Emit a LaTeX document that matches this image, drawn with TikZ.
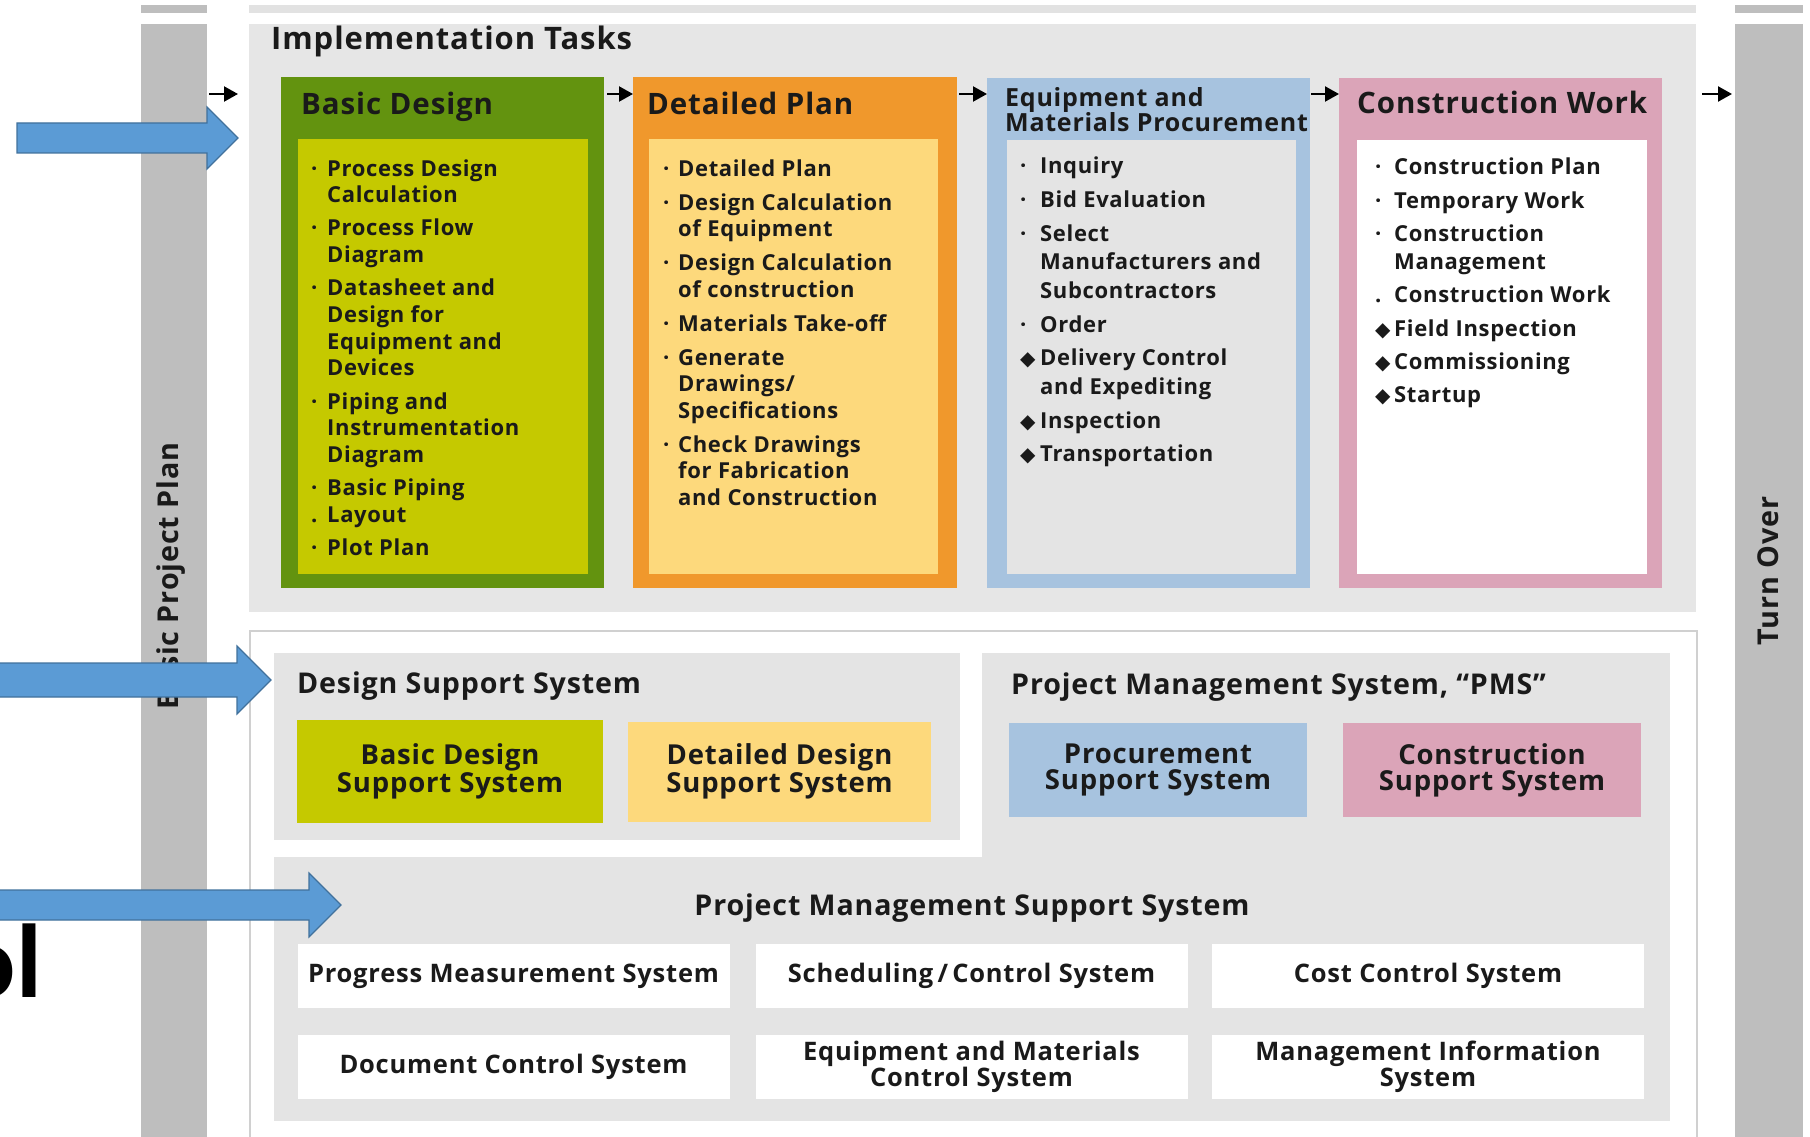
\documentclass[tikz,border=0pt]{standalone}
\usepackage{fontspec}
\setmainfont{Open Sans}[LetterSpace=3]
\newfontfamily\symb{DejaVu Sans}
\newfontfamily\calib{Carlito}
\usetikzlibrary{arrows.meta,calc,positioning}

\definecolor{barGray}{HTML}{BEBEBE}
\definecolor{stripGray}{HTML}{E2E2E2}
\definecolor{panelGray}{HTML}{E6E6E6}
\definecolor{boxGray}{HTML}{E4E4E4}
\definecolor{lineGray}{HTML}{D0D0D0}
\definecolor{bdOuter}{HTML}{63930F}
\definecolor{bdInner}{HTML}{C5C900}
\definecolor{dpOuter}{HTML}{F0982C}
\definecolor{dpInner}{HTML}{FDD97C}
\definecolor{emOuter}{HTML}{A7C3DF}
\definecolor{emInner}{HTML}{E4E4E4}
\definecolor{cwOuter}{HTML}{DBA4B8}
\definecolor{arrowBlue}{HTML}{5B9BD5}
\definecolor{arrowEdge}{HTML}{41719C}
\definecolor{ink}{HTML}{1A1A1A}

\newlength{\bulw}
\newcommand{\dt}{\makebox[\bulw][l]{\textperiodcentered}}
\newcommand{\pd}{\makebox[\bulw][l]{.}}
\newcommand{\dm}{\makebox[\bulw][l]{\symb\fontsize{20}{20}\selectfont ◆}}

\tikzset{
  block/.style={inner sep=0pt, anchor=north west},
  title/.style={font=\bfseries\fontsize{29.5}{30}\selectfont, anchor=base west, inner sep=0pt, text=ink},
  itemlist/.style={font=\bfseries\fontsize{22}{#1}\selectfont, anchor=base west, inner sep=0pt, text=ink},
  sysbox/.style={inner sep=0pt, align=center, text=ink, font=\bfseries\fontsize{27.5}{26}\selectfont},
  whitebox/.style={fill=white, inner sep=0pt, minimum width=432pt, minimum height=64pt, align=center, text=ink, font=\bfseries\fontsize{25.5}{26}\selectfont},
  systitle/.style={font=\bfseries\fontsize{28.6}{29}\selectfont, inner sep=0pt, text=ink},
  sidetext/.style={rotate=90, font=\bfseries\fontsize{28.7}{29}\selectfont, inner sep=0pt, text=ink},
  flow/.style={line width=2.2pt, -{Triangle[length=14pt,width=15pt]}},
  bigarrow/.style={fill=arrowBlue, draw=arrowEdge, line width=1.2pt, line join=miter}
}

\begin{document}
\begin{tikzpicture}[x=1pt,y=-1pt]
    \useasboundingbox (0,0) rectangle (1810,1137);

    % Side bars and top strips
    \fill[barGray] (141,5) rectangle (207,13);
    \fill[stripGray] (249,5) rectangle (1696,13);
    \fill[barGray] (1735,5) rectangle (1803,13);
    \node[block, fill=barGray, minimum width=66pt, minimum height=1114pt] (bpbar) at (141,24) {};
    \node[block, fill=barGray, minimum width=68pt, minimum height=1114pt] (tobar) at (1735,24) {};
    \node[sidetext] (bptext) at (171,576) {Basic Project Plan};
    \node[sidetext] (totext) at (1768,571) {Turn Over};

    % Implementation tasks
    \node[block, fill=panelGray, minimum width=1447pt, minimum height=588pt] (impl) at (249,24) {};
    \node[font=\bfseries\fontsize{31}{31}\selectfont, anchor=base west, inner sep=0pt, text=ink] (impltitle) at (271,50) {Implementation Tasks};

    \node[block, fill=bdOuter, minimum width=323pt, minimum height=511pt] (bd) at (281,77) {};
    \node[block, fill=bdInner, minimum width=290pt, minimum height=435pt] (bdin) at (298,139) {};
    \node[block, fill=dpOuter, minimum width=324pt, minimum height=511pt] (dp) at (633,77) {};
    \node[block, fill=dpInner, minimum width=289pt, minimum height=435pt] (dpin) at (649,139) {};
    \node[block, fill=emOuter, minimum width=323pt, minimum height=510pt] (em) at (987,78) {};
    \node[block, fill=emInner, minimum width=289pt, minimum height=434pt] (emin) at (1007,140) {};
    \node[block, fill=cwOuter, minimum width=323pt, minimum height=510pt] (cw) at (1339,78) {};
    \node[block, fill=white, minimum width=290pt, minimum height=434pt] (cwin) at (1357,140) {};

    \node[title] (bdtitle) at (301,115) {Basic Design};
    \node[title] (dptitle) at (647,115) {Detailed Plan};
    \node[title, font=\bfseries\fontsize{25}{25}\selectfont] (emtitlea) at (1005,107) {Equipment and};
    \node[title, font=\bfseries\fontsize{25}{25}\selectfont] (emtitleb) at (1005,132) {Materials Procurement};
    \node[title] (cwtitle) at (1357,114) {Construction Work};

    % Task lists
    \node[itemlist=26.7] (bdlist) at (311,176) {\setlength{\bulw}{16pt}%
      \begin{tabular}[t]{@{}l@{}l@{}}
        \dt & Process Design\\
            & Calculation\\[6.5pt]
        \dt & Process Flow\\
            & Diagram\\[6.5pt]
        \dt & Datasheet and\\
            & Design for\\
            & Equipment and\\
            & Devices\\[6.5pt]
        \dt & Piping and\\
            & Instrumentation\\
            & Diagram\\[6.5pt]
        \dt & Basic Piping\\
        \pd & Layout\\[6.5pt]
        \dt & Plot Plan
      \end{tabular}};
    \node[itemlist=26.5] (dplist) at (663,176) {\setlength{\bulw}{15pt}%
      \begin{tabular}[t]{@{}l@{}l@{}}
        \dt & Detailed Plan\\[7.5pt]
        \dt & Design Calculation\\
            & of Equipment\\[7.5pt]
        \dt & Design Calculation\\
            & of construction\\[7.5pt]
        \dt & Materials Take-off\\[7.5pt]
        \dt & Generate\\
            & Drawings/\\
            & Specifications\\[7.5pt]
        \dt & Check Drawings\\
            & for Fabrication\\
            & and Construction
      \end{tabular}};
    \node[itemlist=29] (emlist) at (1020,174) {\setlength{\bulw}{20pt}%
      \begin{tabular}[t]{@{}l@{}l@{}}
        \dt & Inquiry\\[4.5pt]
        \dt & Bid Evaluation\\[4.5pt]
        \dt & Select\\
            & Manufacturers and\\
            & Subcontractors\\[4.5pt]
        \dt & Order\\[4.5pt]
        \dm & Delivery Control\\
            & and Expediting\\[4.5pt]
        \dm & Inspection\\[4.5pt]
        \dm & Transportation
      \end{tabular}};
    \node[itemlist=28] (cwlist) at (1375,175) {\setlength{\bulw}{19pt}%
      \begin{tabular}[t]{@{}l@{}l@{}}
        \dt & Construction Plan\\[5.3pt]
        \dt & Temporary Work\\[5.3pt]
        \dt & Construction\\
            & Management\\[5.3pt]
        \pd & Construction Work\\[5.3pt]
        \dm & Field Inspection\\[5.3pt]
        \dm & Commissioning\\[5.3pt]
        \dm & Startup
      \end{tabular}};

    % Flow arrows
    \draw[flow] ($(bpbar.north east)+(2,70)$) -- ($(impl.north west)+(-11,70)$);
    \draw[flow] ($(bd.north east)+(3,17)$) -- (dp.north west |- 0,94);
    \draw[flow] ($(dp.north east)+(2,17)$) -- (em.north west |- 0,94);
    \draw[flow] ($(em.north east)+(1,16)$) -- (cw.north west |- 0,94);
    \draw[flow] ($(impl.north east)+(6,70)$) -- ($(tobar.north west)+(-3,70)$);

    % Support systems
    \node[block, fill=white, draw=lineGray, line width=2pt, minimum width=1447pt, minimum height=520pt] (sys) at (249,630) {};
    \node[block, fill=boxGray, minimum width=686pt, minimum height=187pt] (dss) at (274,653) {};
    \node[block, fill=boxGray, minimum width=688pt, minimum height=205pt] (pms) at (982,653) {};
    \node[block, fill=boxGray, minimum width=1396pt, minimum height=264pt] (pmss) at (274,857) {};

    \node[systitle, anchor=base west] (dsstitle) at (297,693) {Design Support System};
    \node[systitle, anchor=base west] (pmstitle) at (1011,694) {Project Management System, “PMS”};
    \node[systitle, anchor=base] (pmsstitle) at (972,915) {Project Management Support System};

    \node[sysbox, fill=bdInner, minimum width=306pt, minimum height=103pt] (bdss) at (450,771.5) {Basic Design\\Support System};
    \node[sysbox, fill=dpInner, minimum width=303pt, minimum height=100pt] (ddss) at (779.5,771.5) {Detailed Design\\Support System};
    \node[sysbox, fill=emOuter, minimum width=298pt, minimum height=94pt] (pss) at (1158,770) {Procurement\\Support System};
    \node[sysbox, fill=cwOuter, minimum width=298pt, minimum height=94pt] (css) at (1492,770) {Construction\\Support System};

    \node[whitebox] (progress) at (513.5,976) {Progress Measurement System};
    \node[whitebox] (sched) at (971.5,976) {Scheduling\,/\,Control System};
    \node[whitebox] (cost) at (1428,976) {Cost Control System};
    \node[whitebox] (doc) at (513.5,1067) {Document Control System};
    \node[whitebox] (eqmat) at (971.5,1067) {Equipment and Materials\\Control System};
    \node[whitebox] (mis) at (1428,1067) {Management Information\\System};

    % Pointer arrows
    \node[font=\calib\bfseries\fontsize{105}{105}\selectfont, anchor=base east, inner sep=0pt, text=black] (olfrag) at (42,997) {ol};
    \draw[bigarrow] (17,123) -- (207,123) -- (207,107) -- (238,138) -- (207,169) -- (207,153) -- (17,153) -- cycle;
    \draw[bigarrow] (-3,663) -- (237,663) -- (237,646) -- (271,680) -- (237,714) -- (237,697) -- (-3,697) -- cycle;
    \draw[bigarrow] (-3,890) -- (309,890) -- (309,873) -- (341,905) -- (309,937) -- (309,920) -- (-3,920) -- cycle;
\end{tikzpicture}
\end{document}
